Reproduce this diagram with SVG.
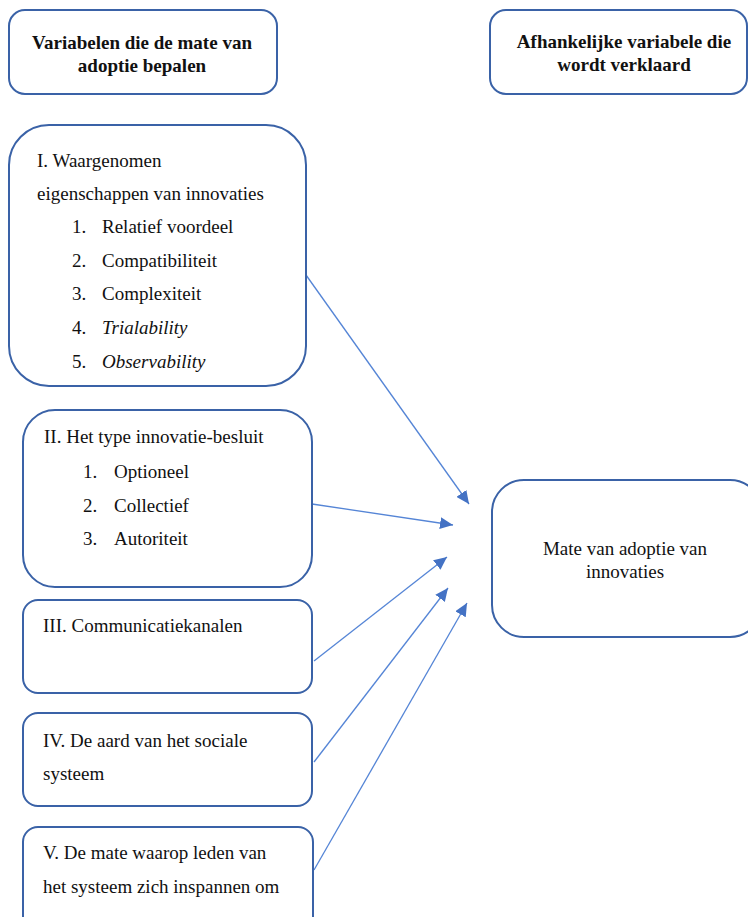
<svg xmlns="http://www.w3.org/2000/svg" width="748" height="917" viewBox="0 0 748 917">
<style>
.box{fill:#fff;stroke:#3A62A7;stroke-width:2}
.t{font-family:"Liberation Serif","Times New Roman",serif;font-size:19px;fill:#111}
.b{font-weight:bold;text-anchor:middle}
.c{text-anchor:middle}
.i{font-style:italic}
.con{stroke:#5585D6;stroke-width:1.3;fill:none;marker-end:url(#ah)}
</style>
<defs>
<marker id="ah" markerUnits="userSpaceOnUse" markerWidth="14" markerHeight="12" refX="13" refY="6" orient="auto">
<path d="M0,0 L13,6 L0,12 Z" fill="#4472C4"/>
</marker>
</defs>
<rect width="748" height="917" fill="#fff"/>
<g id="connectors">
<line class="con" x1="306" y1="275" x2="469" y2="504"/>
<line class="con" x1="312" y1="504" x2="453" y2="525"/>
<line class="con" x1="314" y1="661" x2="447" y2="557"/>
<line class="con" x1="314" y1="762" x2="448" y2="588"/>
<line class="con" x1="314" y1="870" x2="467" y2="603"/>
</g>
<g id="hdr-left">
<rect class="box" x="9" y="10" width="268" height="84" rx="16"/>
<text class="t b" x="142" y="49">Variabelen die de mate van</text>
<text class="t b" x="142" y="72">adoptie bepalen</text>
</g>
<g id="hdr-right">
<rect class="box" x="490" y="10" width="257" height="84" rx="16"/>
<text class="t b" x="624" y="48">Afhankelijke variabele die</text>
<text class="t b" x="624" y="71">wordt verklaard</text>
</g>
<g id="box-I">
<rect class="box" x="9" y="125" width="297" height="261" rx="40"/>
<text class="t" x="37" y="167">I. Waargenomen</text>
<text class="t" x="37" y="200">eigenschappen van innovaties</text>
<text class="t" x="72" y="233">1.</text><text class="t" x="102" y="233">Relatief voordeel</text>
<text class="t" x="72" y="267">2.</text><text class="t" x="102" y="267">Compatibiliteit</text>
<text class="t" x="72" y="300">3.</text><text class="t" x="102" y="300">Complexiteit</text>
<text class="t" x="72" y="334">4.</text><text class="t i" x="102" y="334">Trialability</text>
<text class="t" x="72" y="368">5.</text><text class="t i" x="102" y="368">Observability</text>
</g>
<g id="box-II">
<rect class="box" x="23" y="410" width="289" height="177" rx="32"/>
<text class="t" x="44" y="443">II. Het type innovatie-besluit</text>
<text class="t" x="83" y="478">1.</text><text class="t" x="114" y="478">Optioneel</text>
<text class="t" x="83" y="512">2.</text><text class="t" x="114" y="512">Collectief</text>
<text class="t" x="83" y="545">3.</text><text class="t" x="114" y="545">Autoriteit</text>
</g>
<g id="box-III">
<rect class="box" x="23" y="600" width="289" height="93" rx="15"/>
<text class="t" x="43" y="632">III. Communicatiekanalen</text>
</g>
<g id="box-IV">
<rect class="box" x="23" y="713" width="289" height="93" rx="15"/>
<text class="t" x="43" y="747">IV. De aard van het sociale</text>
<text class="t" x="43" y="780">systeem</text>
</g>
<g id="box-V">
<rect class="box" x="23" y="827" width="290" height="110" rx="15"/>
<text class="t" x="43" y="859">V. De mate waarop leden van</text>
<text class="t" x="43" y="893">het systeem zich inspannen om</text>
</g>
<g id="box-mate">
<rect class="box" x="492" y="480" width="270" height="157" rx="32"/>
<text class="t c" x="625" y="555">Mate van adoptie van</text>
<text class="t c" x="625" y="578">innovaties</text>
</g>
</svg>
